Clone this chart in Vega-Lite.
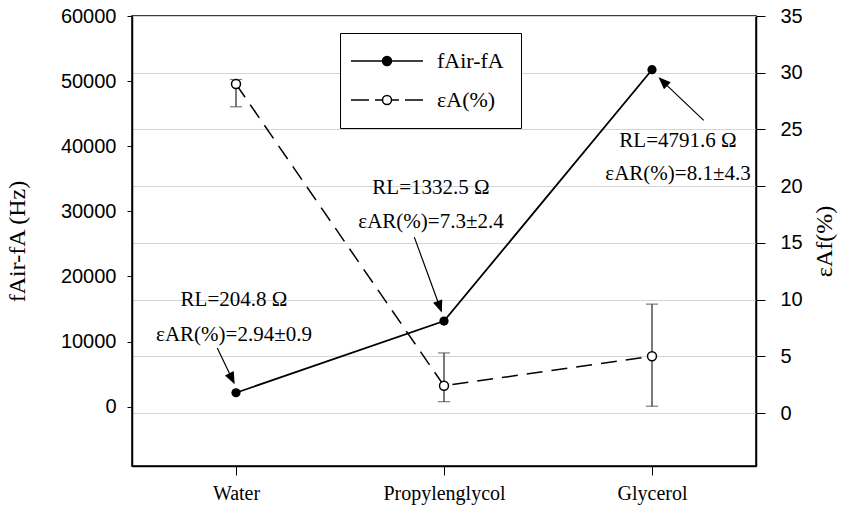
{
  "$schema": "https://vega.github.io/schema/vega-lite/v6.json",
  "width": 624,
  "height": 450,
  "autosize": {"type": "none"},
  "padding": {"left": 132, "top": 16, "right": 95, "bottom": 48},
  "background": "white",
  "config": {
    "view": {"stroke": "black", "strokeWidth": 1.5},
    "scale": {"pointPadding": 0.5},
    "axis": {
      "domainColor": "black", "domainWidth": 1.5, "tickColor": "black", "tickWidth": 1,
      "labelColor": "black", "titleColor": "black", "titleFontWeight": "normal",
      "labelFont": "Liberation Sans", "labelFontSize": 20,
      "titleFont": "Liberation Serif", "titleFontSize": 24
    }
  },
  "data": {
    "values": [
      {"liquid": "Water", "f": 2150, "eps": 29.0, "epsLo": 27.0, "epsHi": 29.4, "note": "RL=204.8 Ω\nεAR(%)=2.94±0.9"},
      {"liquid": "Propylenglycol", "f": 13150, "eps": 2.4, "epsLo": 1.0, "epsHi": 5.3, "note": "RL=1332.5 Ω\nεAR(%)=7.3±2.4"},
      {"liquid": "Glycerol", "f": 51750, "eps": 5.0, "epsLo": 0.6, "epsHi": 9.6, "note": "RL=4791.6 Ω\nεAR(%)=8.1±4.3"}
    ]
  },
  "encoding": {
    "x": {
      "field": "liquid", "type": "nominal",
      "scale": {"type": "point", "domain": ["Water", "Propylenglycol", "Glycerol"], "padding": 0.5},
      "axis": {"title": null, "labelAngle": 0, "labelFont": "Liberation Serif", "labelFontSize": 20, "tickSize": 9, "labelPadding": 8, "grid": false}
    }
  },
  "layer": [
    {
      "layer": [
        {
          "mark": {"type": "line", "color": "black", "strokeWidth": 1.8},
          "encoding": {
            "y": {
              "field": "f", "type": "quantitative", "title": "fAir-fA (Hz)",
              "scale": {"domain": [-9100, 60000], "nice": false, "zero": false},
              "axis": {"orient": "left", "grid": false, "values": [0, 10000, 20000, 30000, 40000, 50000, 60000], "format": "d", "tickSize": 5, "labelPadding": 11, "titlePadding": 31}
            }
          }
        },
        {
          "mark": {"type": "point", "filled": true, "color": "black", "size": 85, "opacity": 1},
          "encoding": {"y": {"field": "f", "type": "quantitative", "title": "fAir-fA (Hz)"}}
        },
        {
          "transform": [{"filter": "datum.liquid === 'Water'"}],
          "layer": [
            {
              "mark": {"type": "text", "font": "Liberation Serif", "fontSize": 21, "lineBreak": "\n", "lineHeight": 35, "align": "center", "baseline": "middle", "dx": -2, "dy": -93, "color": "black"},
              "encoding": {"y": {"field": "f", "type": "quantitative", "title": "fAir-fA (Hz)"}, "text": {"field": "note"}}
            },
            {
              "mark": {"type": "point", "shape": "M-18.7,-44.7L-6.4,-19M-2,-10L-10,-17.2L-2.8,-20.8Z", "size": 4, "filled": true, "fill": "black", "stroke": "black", "strokeWidth": 1.2, "opacity": 1},
              "encoding": {"y": {"field": "f", "type": "quantitative", "title": "fAir-fA (Hz)"}}
            }
          ]
        },
        {
          "transform": [{"filter": "datum.liquid === 'Propylenglycol'"}],
          "layer": [
            {
              "mark": {"type": "text", "font": "Liberation Serif", "fontSize": 21, "lineBreak": "\n", "lineHeight": 34, "align": "center", "baseline": "middle", "dx": -13, "dy": -133, "color": "black"},
              "encoding": {"y": {"field": "f", "type": "quantitative", "title": "fAir-fA (Hz)"}, "text": {"field": "note"}}
            },
            {
              "mark": {"type": "point", "shape": "M-29.7,-84L-6.1,-19.4M-2.7,-10L-9.9,-18L-2.4,-20.8Z", "size": 4, "filled": true, "fill": "black", "stroke": "black", "strokeWidth": 1.2, "opacity": 1},
              "encoding": {"y": {"field": "f", "type": "quantitative", "title": "fAir-fA (Hz)"}}
            }
          ]
        },
        {
          "transform": [{"filter": "datum.liquid === 'Glycerol'"}],
          "layer": [
            {
              "mark": {"type": "text", "font": "Liberation Serif", "fontSize": 21, "lineBreak": "\n", "lineHeight": 33, "align": "center", "baseline": "middle", "dx": 26, "dy": 71, "color": "black"},
              "encoding": {"y": {"field": "f", "type": "quantitative", "title": "fAir-fA (Hz)"}, "text": {"field": "note"}}
            },
            {
              "mark": {"type": "point", "shape": "M51.7,50.7L14.9,15.6M7.7,8.7L17.7,12.7L12.2,18.5Z", "size": 4, "filled": true, "fill": "black", "stroke": "black", "strokeWidth": 1.2, "opacity": 1},
              "encoding": {"y": {"field": "f", "type": "quantitative", "title": "fAir-fA (Hz)"}}
            }
          ]
        },
        {
          "transform": [{"filter": "false"}],
          "mark": {"type": "point", "filled": true, "stroke": "black", "strokeWidth": 1.5, "opacity": 1},
          "encoding": {
            "shape": {
              "field": "series", "type": "nominal",
              "scale": {"domain": ["fAir-fA", "εA(%)"], "range": [
                "M-3.6,0L3.6,0M0.45,0A0.45,0.45,0,1,1,-0.45,0A0.45,0.45,0,1,1,0.45,0Z",
                "M-3.6,0L-1.8,0M-1.2,0L-0.45,0M0.45,0L1.2,0M1.8,0L3.6,0M0.45,0A0.45,0.45,0,1,1,-0.45,0A0.45,0.45,0,1,1,0.45,0Z"
              ]},
              "legend": {"title": null, "orient": "none", "legendX": 208, "legendY": 17, "symbolSize": 400, "symbolOffset": 19, "labelOffset": 39, "labelFont": "Liberation Serif", "labelFontSize": 22, "labelColor": "black", "padding": 17, "strokeColor": "black", "fillColor": "white", "rowPadding": 17, "symbolStrokeColor": "black", "symbolStrokeWidth": 1.5, "symbolOpacity": 1,
                "encode": {"symbols": {"update": {"stroke": {"value": "black"}, "strokeWidth": {"value": 1.5}, "opacity": {"value": 1}}}}}
            },
            "fill": {
              "field": "series", "type": "nominal",
              "scale": {"domain": ["fAir-fA", "εA(%)"], "range": ["black", "white"]},
              "legend": {"title": null, "orient": "none", "legendX": 208, "legendY": 17, "symbolSize": 400, "symbolOffset": 19, "labelOffset": 39, "labelFont": "Liberation Serif", "labelFontSize": 22, "labelColor": "black", "padding": 17, "strokeColor": "black", "fillColor": "white", "rowPadding": 17, "symbolStrokeColor": "black", "symbolStrokeWidth": 1.5, "symbolOpacity": 1,
                "encode": {"symbols": {"update": {"stroke": {"value": "black"}, "strokeWidth": {"value": 1.5}, "opacity": {"value": 1}}}}}
            }
          }
        }
      ]
    },
    {
      "layer": [
        {
          "mark": {"type": "line", "color": "black", "strokeWidth": 1.5, "strokeDash": [16, 9]},
          "encoding": {
            "y": {
              "field": "eps", "type": "quantitative", "title": "εAf(%)",
              "scale": {"domain": [-4.67, 35], "nice": false, "zero": false},
              "axis": {"orient": "right", "grid": true, "gridColor": "#d4d4d4", "gridWidth": 1, "values": [0, 5, 10, 15, 20, 25, 30, 35], "tickSize": 9, "labelPadding": 15, "titlePadding": 10, "titleAngle": 270, "titleBaseline": "top"}
            }
          }
        },
        {
          "mark": {"type": "rule", "color": "#222222", "strokeWidth": 1.2},
          "encoding": {"y": {"field": "epsLo", "type": "quantitative", "title": "εAf(%)"}, "y2": {"field": "epsHi"}}
        },
        {
          "mark": {"type": "tick", "color": "#444444", "size": 12, "thickness": 1.2},
          "encoding": {"y": {"field": "epsLo", "type": "quantitative", "title": "εAf(%)"}}
        },
        {
          "mark": {"type": "tick", "color": "#444444", "size": 12, "thickness": 1.2},
          "encoding": {"y": {"field": "epsHi", "type": "quantitative", "title": "εAf(%)"}}
        },
        {
          "mark": {"type": "point", "filled": true, "fill": "white", "stroke": "black", "strokeWidth": 1.5, "size": 80, "opacity": 1},
          "encoding": {"y": {"field": "eps", "type": "quantitative", "title": "εAf(%)"}}
        }
      ]
    }
  ],
  "resolve": {"scale": {"y": "independent"}}
}
